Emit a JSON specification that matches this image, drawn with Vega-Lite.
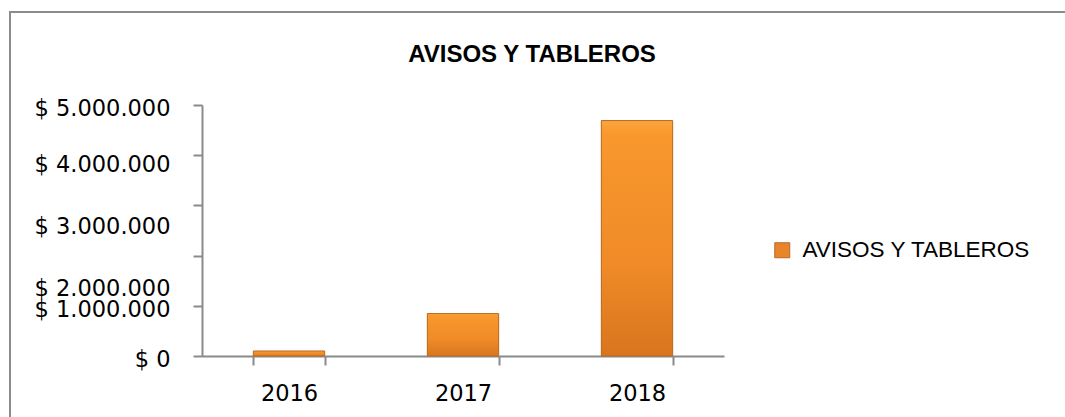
{
  "$schema": "https://vega.github.io/schema/vega-lite/v6.json",
  "autosize": "none",
  "width": 1060,
  "height": 410,
  "padding": {"left": 10, "top": 12, "right": 0, "bottom": 0},
  "background": "white",
  "config": {"view": {"stroke": "#8c8c8c", "strokeWidth": 2}},
  "title": {
    "text": "AVISOS Y TABLEROS",
    "font": "Liberation Sans",
    "fontSize": 24,
    "fontWeight": "bold",
    "color": "black",
    "anchor": "middle",
    "frame": "group",
    "baseline": "alphabetic",
    "offset": -74,
    "dx": -8
  },
  "data": {
    "values": [
      {"year": "2016", "valor": 100000, "serie": "AVISOS Y TABLEROS"},
      {"year": "2017", "valor": 845000, "serie": "AVISOS Y TABLEROS"},
      {"year": "2018", "valor": 4690000, "serie": "AVISOS Y TABLEROS"}
    ]
  },
  "encoding": {
    "x": {
      "field": "year",
      "type": "ordinal",
      "scale": {"range": [192, 714], "paddingInner": 0.59, "paddingOuter": 0.295},
      "axis": {
        "orient": "bottom",
        "offset": -66,
        "title": null,
        "tickBand": "extent",
        "labelAngle": 0,
        "domainColor": "#8a8a8a",
        "domainWidth": 2,
        "tickColor": "#8a8a8a",
        "tickWidth": 2,
        "tickSize": 9,
        "labelFont": "DejaVu Sans",
        "labelFontSize": 22.5,
        "labelColor": "black",
        "labelPadding": 17,
        "grid": false
      }
    },
    "y": {
      "field": "valor",
      "type": "quantitative",
      "scale": {"domain": [0, 5000000], "range": [344, 93], "nice": false},
      "axis": {
        "orient": "left",
        "offset": -192,
        "title": null,
        "values": [0, 1000000, 2000000, 3000000, 4000000, 5000000],
        "labelExpr": "'$ ' + replace(replace(format(datum.value, ','), ',', '.'), ',', '.')",
        "labelOverlap": false,
        "domainColor": "#8a8a8a",
        "domainWidth": 2,
        "tickColor": "#8a8a8a",
        "tickWidth": 2,
        "tickSize": 9,
        "labelFont": "DejaVu Sans",
        "labelFontSize": 22.5,
        "labelColor": "black",
        "labelPadding": 23,
        "labelBaseline": "middle",
        "labelOffset": {
          "condition": [
            {"test": "datum.value == 4000000", "value": 9},
            {"test": "datum.value == 3000000", "value": 21},
            {"test": "datum.value == 2000000", "value": 33},
            {"test": "datum.value == 1000000", "value": 4}
          ],
          "value": 3
        },
        "grid": false
      }
    }
  },
  "layer": [
    {
      "mark": {"type": "bar"},
      "encoding": {
        "color": {
          "field": "serie",
          "type": "nominal",
          "scale": {"range": ["#E8852A"]},
          "legend": {
            "title": null,
            "orient": "none",
            "legendX": 761,
            "legendY": 227,
            "padding": 0,
            "symbolType": "square",
            "symbolSize": 225,
            "symbolStrokeColor": "#B86A24",
            "symbolStrokeWidth": 1,
            "symbolOpacity": 1,
            "labelFont": "Liberation Sans",
            "labelFontSize": 22.5,
            "labelColor": "black",
            "labelOffset": 9,
            "labelLimit": 400
          }
        }
      }
    },
    {
      "mark": {
        "type": "bar",
        "stroke": "#B86A24",
        "strokeWidth": 1,
        "fill": {
          "gradient": "linear",
          "x1": 0, "y1": 0, "x2": 0, "y2": 1,
          "stops": [
            {"offset": 0, "color": "#FCA53E"},
            {"offset": 0.06, "color": "#F8982D"},
            {"offset": 0.6, "color": "#F08B27"},
            {"offset": 1, "color": "#D8761F"}
          ]
        }
      }
    }
  ]
}
